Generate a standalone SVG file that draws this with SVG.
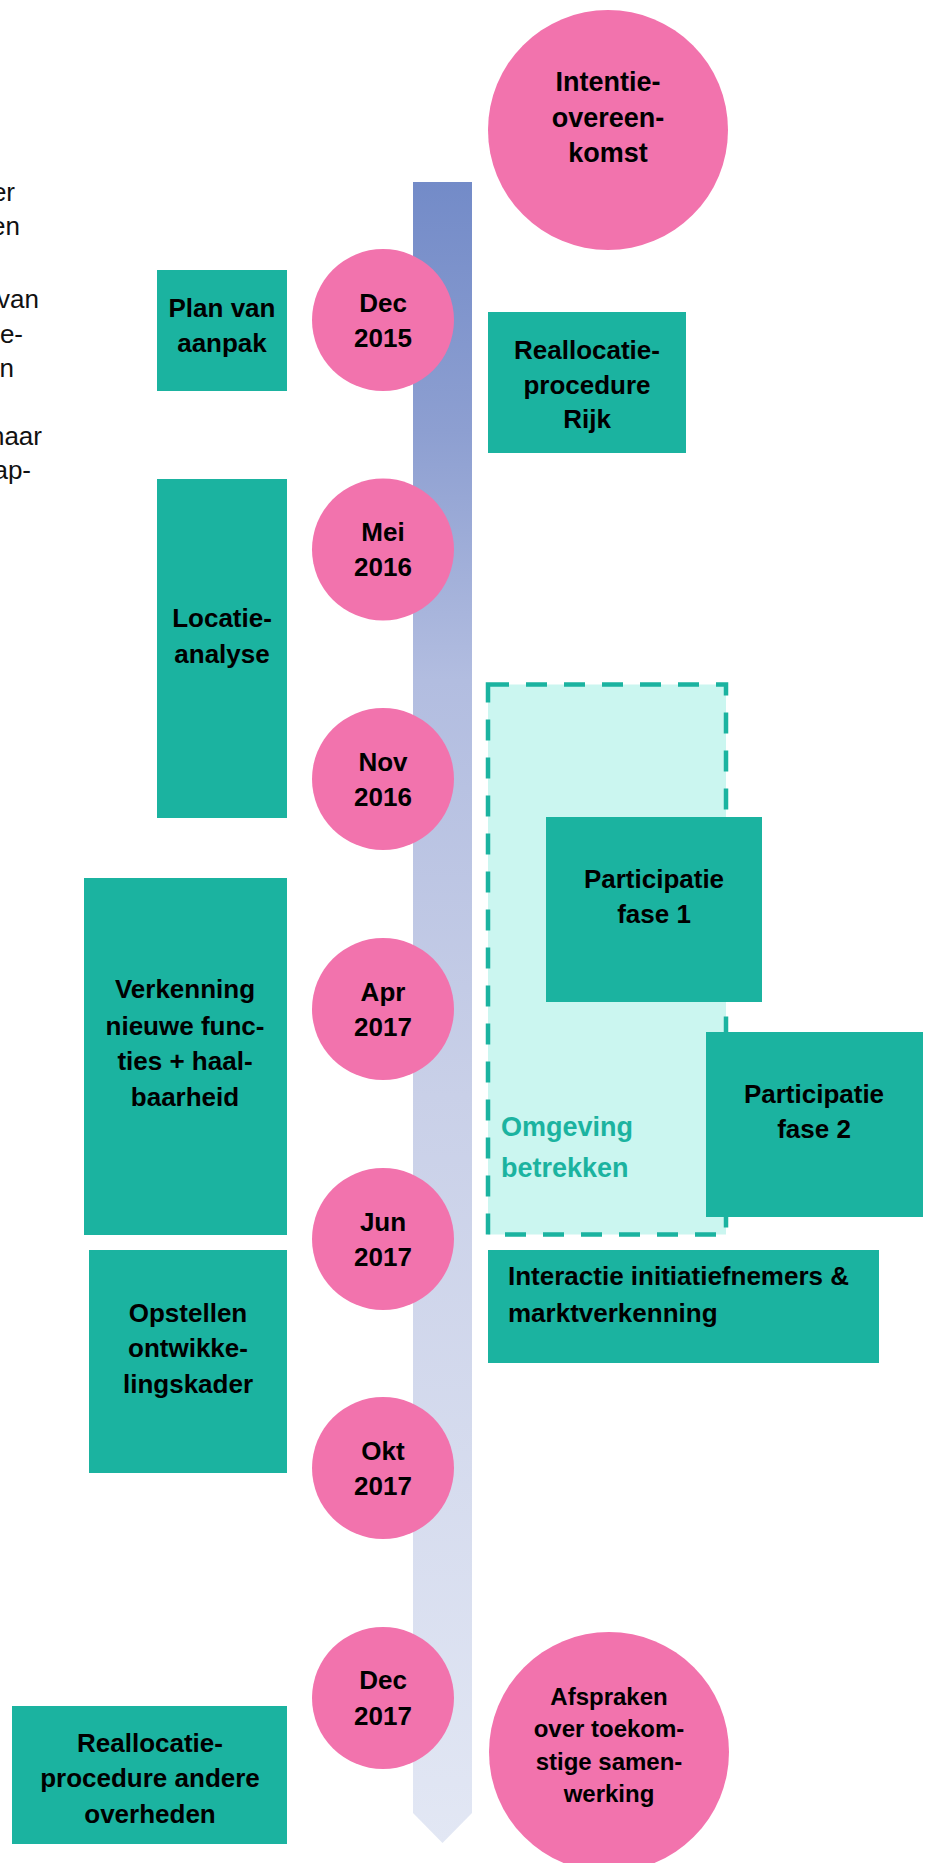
<svg xmlns="http://www.w3.org/2000/svg" width="929" height="1863" viewBox="0 0 929 1863">
  <defs>
    <linearGradient id="barGrad" x1="0" y1="0" x2="0" y2="1">
      <stop offset="0" stop-color="#738BC8"/>
      <stop offset="0.15" stop-color="#8D9FD1"/>
      <stop offset="0.3" stop-color="#B2BDE0"/>
      <stop offset="0.55" stop-color="#C9D0E8"/>
      <stop offset="1" stop-color="#E2E7F4"/>
    </linearGradient>
    <style>
      .box { fill: #1BB3A0; }
      .dot { fill: #F273AD; }
      .lbl { font-family: "Liberation Sans", Arial, sans-serif; font-weight: bold; font-size: 26px; fill: #000; text-anchor: middle; }
      .lbl-l { font-family: "Liberation Sans", Arial, sans-serif; font-weight: bold; font-size: 26px; fill: #000; }
      .note { font-family: "Liberation Sans", Arial, sans-serif; font-size: 26px; fill: #111; text-anchor: end; }
      .zone { fill: #CBF6F0; stroke: #1BB3A0; stroke-width: 4.5; stroke-dasharray: 21 17; }
      .zone-lbl { font-family: "Liberation Sans", Arial, sans-serif; font-weight: bold; font-size: 27px; fill: #1BB3A0; }
    </style>
  </defs>

  <!-- clipped paragraph text at the left edge -->
  <g id="side-text">
    <text class="note" x="15" y="201">er</text>
    <text class="note" x="20" y="235">en</text>
    <text class="note" x="39" y="308">van</text>
    <text class="note" x="23" y="343">e-</text>
    <text class="note" x="14" y="377">n</text>
    <text class="note" x="42" y="445">naar</text>
    <text class="note" x="31" y="479">ap-</text>
  </g>

  <!-- timeline bar with arrow point -->
  <g id="connectors">
    <path d="M413 182 H472 V1813 L442.5 1843 L413 1813 Z" fill="url(#barGrad)"/>
  </g>

  <!-- participation zone -->
  <g id="zone-omgeving">
    <rect class="zone" x="488" y="684.5" width="238" height="550"/>
    <text class="zone-lbl" x="501" y="1136">Omgeving</text>
    <text class="zone-lbl" x="501" y="1177">betrekken</text>
  </g>

  <!-- activity boxes -->
  <g id="box-plan">
    <rect class="box" x="157" y="270" width="130" height="121"/>
    <text class="lbl" x="222" y="317">Plan van</text>
    <text class="lbl" x="222" y="352">aanpak</text>
  </g>
  <g id="box-realloc-rijk">
    <rect class="box" x="488" y="312" width="198" height="141"/>
    <text class="lbl" x="587" y="359">Reallocatie-</text>
    <text class="lbl" x="587" y="394">procedure</text>
    <text class="lbl" x="587" y="428">Rijk</text>
  </g>
  <g id="box-locatie">
    <rect class="box" x="157" y="479" width="130" height="339"/>
    <text class="lbl" x="222" y="627">Locatie-</text>
    <text class="lbl" x="222" y="663">analyse</text>
  </g>
  <g id="box-participatie-1">
    <rect class="box" x="546" y="817" width="216" height="185"/>
    <text class="lbl" x="654" y="888">Participatie</text>
    <text class="lbl" x="654" y="923">fase 1</text>
  </g>
  <g id="box-participatie-2">
    <rect class="box" x="706" y="1032" width="217" height="185"/>
    <text class="lbl" x="814" y="1103">Participatie</text>
    <text class="lbl" x="814" y="1138">fase 2</text>
  </g>
  <g id="box-verkenning">
    <rect class="box" x="84" y="878" width="203" height="357"/>
    <text class="lbl" x="185" y="998">Verkenning</text>
    <text class="lbl" x="185" y="1035">nieuwe func-</text>
    <text class="lbl" x="185" y="1070">ties + haal-</text>
    <text class="lbl" x="185" y="1106">baarheid</text>
  </g>
  <g id="box-opstellen">
    <rect class="box" x="89" y="1250" width="198" height="223"/>
    <text class="lbl" x="188" y="1322">Opstellen</text>
    <text class="lbl" x="188" y="1357">ontwikke-</text>
    <text class="lbl" x="188" y="1393">lingskader</text>
  </g>
  <g id="box-interactie">
    <rect class="box" x="488" y="1250" width="391" height="113"/>
    <text class="lbl-l" x="508" y="1285">Interactie initiatiefnemers &amp;</text>
    <text class="lbl-l" x="508" y="1322">marktverkenning</text>
  </g>
  <g id="box-realloc-andere">
    <rect class="box" x="12" y="1706" width="275" height="138"/>
    <text class="lbl" x="150" y="1752">Reallocatie-</text>
    <text class="lbl" x="150" y="1787">procedure andere</text>
    <text class="lbl" x="150" y="1823">overheden</text>
  </g>

  <!-- milestones -->
  <g id="milestone-intentie">
    <circle class="dot" cx="608" cy="130" r="120"/>
    <text class="lbl" x="608" y="91" style="font-size:27px">Intentie-</text>
    <text class="lbl" x="608" y="127" style="font-size:27px">overeen-</text>
    <text class="lbl" x="608" y="162" style="font-size:27px">komst</text>
  </g>
  <g id="date-dec-2015">
    <circle class="dot" cx="383" cy="320" r="71"/>
    <text class="lbl" x="383" y="312">Dec</text>
    <text class="lbl" x="383" y="347">2015</text>
  </g>
  <g id="date-mei-2016">
    <circle class="dot" cx="383" cy="549.5" r="71"/>
    <text class="lbl" x="383" y="541">Mei</text>
    <text class="lbl" x="383" y="576">2016</text>
  </g>
  <g id="date-nov-2016">
    <circle class="dot" cx="383" cy="779" r="71"/>
    <text class="lbl" x="383" y="771">Nov</text>
    <text class="lbl" x="383" y="806">2016</text>
  </g>
  <g id="date-apr-2017">
    <circle class="dot" cx="383" cy="1009" r="71"/>
    <text class="lbl" x="383" y="1001">Apr</text>
    <text class="lbl" x="383" y="1036">2017</text>
  </g>
  <g id="date-jun-2017">
    <circle class="dot" cx="383" cy="1239" r="71"/>
    <text class="lbl" x="383" y="1231">Jun</text>
    <text class="lbl" x="383" y="1266">2017</text>
  </g>
  <g id="date-okt-2017">
    <circle class="dot" cx="383" cy="1468" r="71"/>
    <text class="lbl" x="383" y="1460">Okt</text>
    <text class="lbl" x="383" y="1495">2017</text>
  </g>
  <g id="date-dec-2017">
    <circle class="dot" cx="383" cy="1698" r="71"/>
    <text class="lbl" x="383" y="1689">Dec</text>
    <text class="lbl" x="383" y="1725">2017</text>
  </g>
  <g id="milestone-afspraken">
    <circle class="dot" cx="609" cy="1752" r="120"/>
    <text class="lbl" x="609" y="1705" style="font-size:24px">Afspraken</text>
    <text class="lbl" x="609" y="1737" style="font-size:24px">over toekom-</text>
    <text class="lbl" x="609" y="1770" style="font-size:24px">stige samen-</text>
    <text class="lbl" x="609" y="1802" style="font-size:24px">werking</text>
  </g>
</svg>
